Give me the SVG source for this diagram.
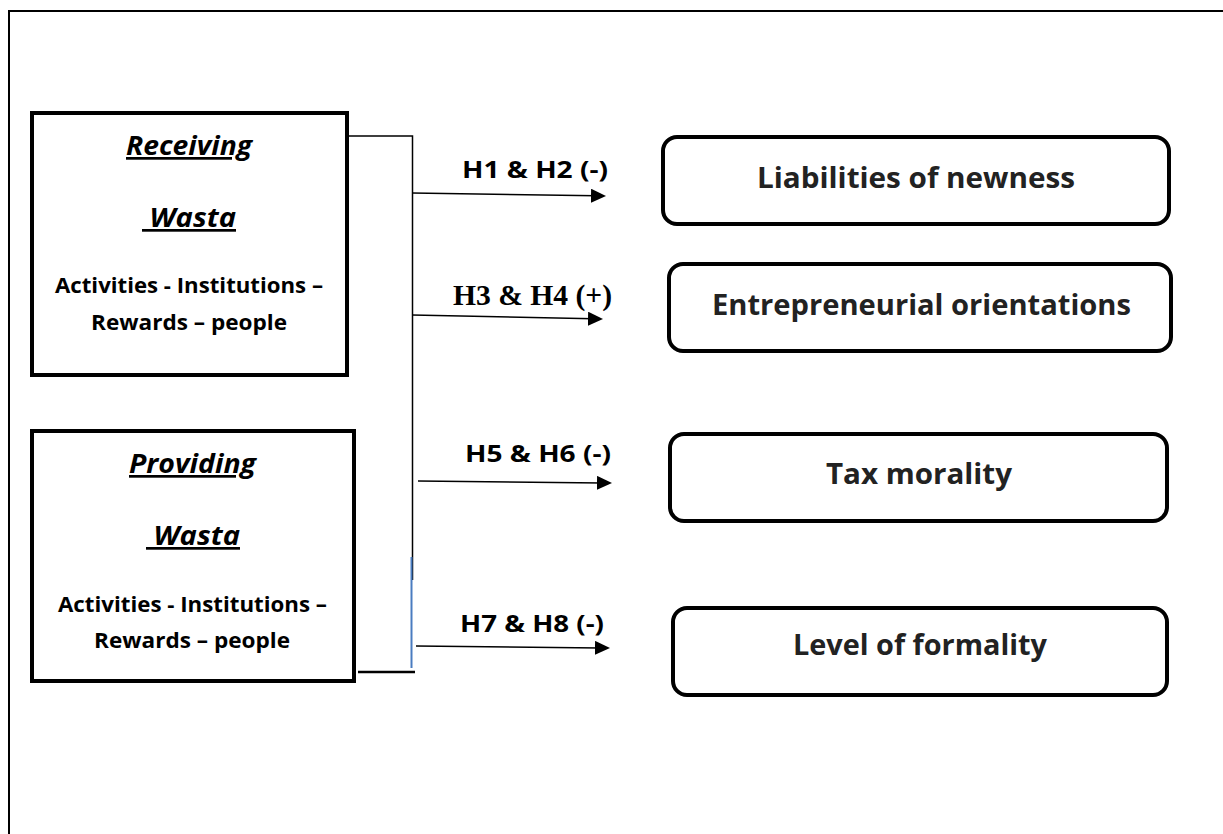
<svg xmlns="http://www.w3.org/2000/svg" width="1223" height="834" viewBox="0 0 1223 834">
<style>
.frame{fill:none;stroke:#000;stroke-width:2}
.src{fill:#fff;stroke:#000;stroke-width:4}
.dst{fill:#fff;stroke:#000;stroke-width:4}
.title{font-family:"Open Sans","Liberation Sans",sans-serif;font-weight:700;font-style:italic;font-size:27px;fill:#000;text-decoration:underline;text-anchor:middle}
.sub{font-family:"Open Sans","Liberation Sans",sans-serif;font-weight:700;font-size:22px;fill:#000;text-anchor:middle}
.dtxt{font-family:"Open Sans","Liberation Sans",sans-serif;font-weight:700;font-size:28px;fill:#222;text-anchor:middle}
.lbl{font-family:"Open Sans","Liberation Sans",sans-serif;font-weight:700;font-size:24px;fill:#000;text-anchor:middle}
.lbls{font-family:"Liberation Serif","Times New Roman",serif;font-weight:700;font-size:29px;fill:#000;text-anchor:middle}
.wire{fill:none;stroke:#000;stroke-width:1.5}
.arr{fill:none;stroke:#000;stroke-width:1.5;marker-end:url(#ah)}
</style>
<defs>
<marker id="ah" markerUnits="userSpaceOnUse" markerWidth="16" markerHeight="14" refX="5" refY="7" orient="auto">
<path d="M0,0 L15,7 L0,14 Z" fill="#000"/>
</marker>
</defs>
<path class="frame" d="M9,834 V11 H1223"/>

<g id="receiving">
<rect class="src" x="32" y="113" width="315" height="262"/>
<text class="title" x="189" y="155" textLength="126" lengthAdjust="spacingAndGlyphs">Receiving</text>
<text class="title" x="189" y="227" xml:space="preserve" textLength="94" lengthAdjust="spacingAndGlyphs"> Wasta</text>
<text class="sub" x="189" y="293" textLength="268" lengthAdjust="spacingAndGlyphs">Activities - Institutions –</text>
<text class="sub" x="189" y="330" textLength="196" lengthAdjust="spacingAndGlyphs">Rewards – people</text>
</g>

<g id="providing">
<rect class="src" x="32" y="431" width="322" height="250"/>
<text class="title" x="192.5" y="473" textLength="127" lengthAdjust="spacingAndGlyphs">Providing</text>
<text class="title" x="193" y="545" xml:space="preserve" textLength="94" lengthAdjust="spacingAndGlyphs"> Wasta</text>
<text class="sub" x="192.5" y="612" textLength="269" lengthAdjust="spacingAndGlyphs">Activities - Institutions –</text>
<text class="sub" x="192" y="648" textLength="196" lengthAdjust="spacingAndGlyphs">Rewards – people</text>
</g>

<g id="liabilities">
<rect class="dst" x="663" y="137" width="506" height="87" rx="14"/>
<text class="dtxt" x="916" y="188" textLength="318" lengthAdjust="spacingAndGlyphs">Liabilities of newness</text>
</g>
<g id="entrepreneurial">
<rect class="dst" x="669" y="264" width="502" height="87" rx="14"/>
<text class="dtxt" x="921.5" y="315" textLength="419" lengthAdjust="spacingAndGlyphs">Entrepreneurial orientations</text>
</g>
<g id="tax">
<rect class="dst" x="670" y="434" width="497" height="87" rx="14"/>
<text class="dtxt" x="919" y="484" textLength="186" lengthAdjust="spacingAndGlyphs">Tax morality</text>
</g>
<g id="formality">
<rect class="dst" x="673" y="608" width="494" height="87" rx="14"/>
<text class="dtxt" x="920" y="655" textLength="254" lengthAdjust="spacingAndGlyphs">Level of formality</text>
</g>

<g id="connectors">
<path class="wire" d="M349,136 H412.5 V580"/>
<line x1="411.5" y1="557" x2="411.5" y2="668" stroke="#4a7cc0" stroke-width="2"/>
<line x1="358" y1="672" x2="415" y2="672" stroke="#000" stroke-width="2.5"/>
<line class="arr" x1="412" y1="193" x2="596" y2="195.8"/>
<line class="arr" x1="412" y1="315" x2="593" y2="318.8"/>
<line class="arr" x1="418" y1="481" x2="602" y2="482.9"/>
<line class="arr" x1="416" y1="646" x2="600" y2="647.9"/>
<text class="lbl" x="535" y="178" textLength="146" lengthAdjust="spacingAndGlyphs">H1 &amp; H2 (-)</text>
<text class="lbls" x="532.5" y="305" textLength="159" lengthAdjust="spacingAndGlyphs">H3 &amp; H4 (+)</text>
<text class="lbl" x="538" y="462" textLength="146" lengthAdjust="spacingAndGlyphs">H5 &amp; H6 (-)</text>
<text class="lbl" x="532" y="632" textLength="144" lengthAdjust="spacingAndGlyphs">H7 &amp; H8 (-)</text>
</g>
</svg>
